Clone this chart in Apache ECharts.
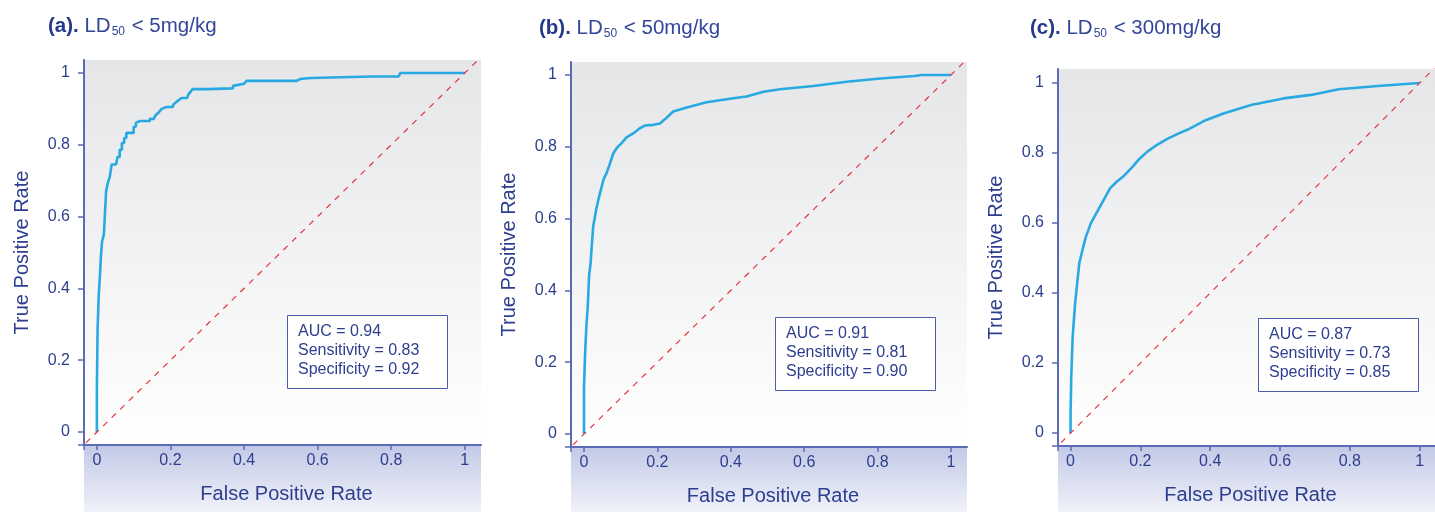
<!DOCTYPE html>
<html><head><meta charset="utf-8">
<script src="https://cdn.jsdelivr.net/npm/echarts@6/dist/echarts.min.js"></script>
<style>html,body{margin:0;padding:0;background:#fff}#c{width:1435px;height:512px}</style>
</head><body><div id="c"></div>
<script>
// ---- data ----
const panelLabels = ['(a).', '(b).', '(c).'];
const thresholds = ['5mg/kg', '50mg/kg', '300mg/kg'];
const tickValues = [0, 0.2, 0.4, 0.6, 0.8, 1];
const xName = 'False Positive Rate';
const yName = 'True Positive Rate';
const aucVals = ['0.94', '0.91', '0.87'];
const sensVals = ['0.83', '0.81', '0.73'];
const specVals = ['0.92', '0.90', '0.85'];
const chanceLine = [[-0.1, -0.1], [1.1, 1.1]];
const rocA = [[0,0],[0,0.12],[0.002,0.12],[0.002,0.29],[0.005,0.29],[0.005,0.38],[0.008,0.38],[0.008,0.43],[0.011,0.43],[0.011,0.49],[0.014,0.49],[0.014,0.53],[0.019,0.53],[0.019,0.55],[0.022,0.55],[0.022,0.61],[0.025,0.61],[0.025,0.67],[0.03,0.67],[0.03,0.695],[0.035,0.695],[0.035,0.71],[0.04,0.71],[0.04,0.745],[0.052,0.745],[0.052,0.75],[0.056,0.75],[0.056,0.766],[0.062,0.766],[0.062,0.786],[0.068,0.786],[0.068,0.805],[0.074,0.805],[0.074,0.819],[0.08,0.819],[0.08,0.833],[0.10,0.833],[0.10,0.85],[0.106,0.85],[0.106,0.861],[0.117,0.866],[0.144,0.866],[0.144,0.872],[0.155,0.872],[0.158,0.88],[0.167,0.889],[0.176,0.9],[0.189,0.905],[0.207,0.905],[0.207,0.911],[0.217,0.92],[0.23,0.93],[0.245,0.93],[0.248,0.939],[0.26,0.955],[0.30,0.955],[0.37,0.957],[0.37,0.964],[0.40,0.97],[0.407,0.978],[0.543,0.978],[0.552,0.983],[0.58,0.986],[0.75,0.99],[0.82,0.99],[0.825,1],[1,1]];
const rocB = [[0,0],[0,0.128],[0.003,0.13],[0.003,0.225],[0.007,0.23],[0.007,0.31],[0.01,0.35],[0.014,0.443],[0.018,0.476],[0.021,0.522],[0.025,0.577],[0.033,0.624],[0.039,0.652],[0.046,0.68],[0.053,0.708],[0.062,0.728],[0.071,0.754],[0.08,0.782],[0.089,0.796],[0.103,0.811],[0.116,0.826],[0.134,0.837],[0.153,0.852],[0.166,0.859],[0.189,0.861],[0.207,0.865],[0.221,0.877],[0.243,0.898],[0.28,0.909],[0.334,0.924],[0.407,0.935],[0.443,0.94],[0.489,0.953],[0.534,0.96],[0.625,0.969],[0.716,0.981],[0.807,0.99],[0.9,0.997],[0.92,1],[1,1]];
const rocC = [[0,0],[0,0.056],[0.002,0.161],[0.006,0.275],[0.013,0.37],[0.018,0.418],[0.025,0.485],[0.034,0.523],[0.044,0.561],[0.058,0.599],[0.076,0.632],[0.095,0.666],[0.113,0.699],[0.132,0.718],[0.15,0.732],[0.178,0.761],[0.197,0.783],[0.22,0.804],[0.25,0.825],[0.28,0.842],[0.31,0.856],[0.336,0.867],[0.383,0.892],[0.438,0.913],[0.517,0.937],[0.61,0.956],[0.689,0.966],[0.768,0.982],[0.889,0.992],[1,1]];
const rocSets = [rocA, rocB, rocC];

// ---- layout ----
const layouts = [
  {left:84, top:60, width:397, height:385, xMin:-0.035, xMax:1.044, yMin:-0.036, yMax:1.036, tx:48, ty:15, bx:287, by:315},
  {left:571, top:62, width:396, height:385, xMin:-0.0354, xMax:1.0436, yMin:-0.036, yMax:1.036, tx:539, ty:17, bx:775, by:317},
  {left:1058, top:69, width:388, height:377, xMin:-0.036, xMax:1.044, yMin:-0.037, yMax:1.04, tx:1030, ty:17, bx:1258, by:318}
];
const navy = '#2d3e8e';
const axisBlue = '#5a6bb4';
const font = 'Liberation Sans';

const grids = [], xAxes = [], yAxes = [], series = [], titles = [], graphics = [];
layouts.forEach((L, i) => {
  grids.push({left:L.left, top:L.top, width:L.width, height:L.height, show:true, borderWidth:0,
    backgroundColor:{type:'linear', x:0, y:0, x2:0, y2:1, colorStops:[{offset:0, color:'#e5e6e8'},{offset:1, color:'#ffffff'}]}});
  xAxes.push({type:'value', gridIndex:i, min:L.xMin, max:L.xMax, splitLine:{show:false},
    axisLine:{show:true, onZero:false, lineStyle:{color:axisBlue, width:2}},
    axisTick:{show:true, length:5, customValues:[L.xMin].concat(tickValues), lineStyle:{color:axisBlue, width:1.5}},
    axisLabel:{customValues:tickValues, margin:8, color:navy, fontSize:16, fontFamily:font},
    name:xName, nameLocation:'middle', nameGap:39, nameTextStyle:{color:navy, fontSize:20, fontFamily:font, padding:[0,0,0,8]}});
  yAxes.push({type:'value', gridIndex:i, min:L.yMin, max:L.yMax, splitLine:{show:false},
    axisLine:{show:true, onZero:false, lineStyle:{color:axisBlue, width:2}},
    axisTick:{show:true, length:6, customValues:[L.yMin].concat(tickValues), lineStyle:{color:axisBlue, width:1.5}},
    axisLabel:{customValues:tickValues, margin:14, color:navy, fontSize:16, fontFamily:font},
    name:yName, nameLocation:'middle', nameRotate:90, nameGap:52, nameTextStyle:{color:navy, fontSize:20, fontFamily:font}});
  series.push({type:'line', xAxisIndex:i, yAxisIndex:i, data:rocSets[i], showSymbol:false, clip:true,
    lineStyle:{color:'#29a9e1', width:2.6}, itemStyle:{color:'#29a9e1'}, z:3});
  series.push({type:'line', xAxisIndex:i, yAxisIndex:i, data:chanceLine, showSymbol:false, clip:true,
    lineStyle:{color:'#e5343d', width:1.2, type:[6,6]}, z:4});
  titles.push({left:L.tx, top:L.ty, padding:0,
    text:'{b|' + panelLabels[i] + '}{n| LD}{s|50}{n| < ' + thresholds[i] + '}',
    textStyle:{fontFamily:font, fontWeight:'normal', rich:{
      b:{fontSize:20.5, fontWeight:'bold', color:'#263889', fontFamily:font},
      n:{fontSize:20.5, fontWeight:'normal', color:'#34469a', fontFamily:font},
      s:{fontSize:12, fontWeight:'normal', color:'#34469a', fontFamily:font, padding:[11,1,0,1]}
    }}});
  titles.push({left:L.bx, top:L.by, padding:[7,28,10,11], backgroundColor:'#ffffff', borderColor:'#4c5cab', borderWidth:1,
    text:'AUC = ' + aucVals[i] + '\nSensitivity = ' + sensVals[i] + '\nSpecificity = ' + specVals[i],
    textStyle:{fontFamily:font, fontSize:16, fontWeight:'normal', color:navy, lineHeight:19}});
  graphics.push({type:'rect', z:-1, shape:{x:L.left, y:L.top + L.height, width:L.width, height:512 - L.top - L.height},
    style:{fill:{type:'linear', x:0, y:0, x2:0, y2:1, colorStops:[{offset:0, color:'#c2c9e6'},{offset:1, color:'#f0f2f9'}]}}});
});

const chart = echarts.init(document.getElementById('c'), null, {renderer:'canvas'});
chart.setOption({animation:false, backgroundColor:'#ffffff', title:titles, grid:grids, xAxis:xAxes, yAxis:yAxes, series:series, graphic:graphics});
</script></body></html>
